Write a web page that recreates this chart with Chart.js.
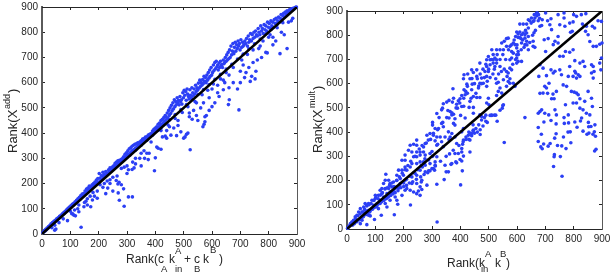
<!DOCTYPE html>
<html>
<head>
<meta charset="utf-8">
<script src="https://cdn.jsdelivr.net/npm/chart.js@4"></script>
<style>
html, body { margin: 0; padding: 0; background: #fff; }
canvas { position: absolute; top: 0; }
</style>
</head>
<body>
<canvas id="addChart" width="305" height="275" style="left:0"></canvas>
<canvas id="multChart" width="305" height="275" style="left:305px"></canvas>
<script>
const rankTicks = [0, 100, 200, 300, 400, 500, 600, 700, 800, 900];
const diagonalX = [0, 900];
const diagonalY = [0, 900];

// additive panel
const addBandLow = [[3,6],[6,8],[8,14],[11,12],[13,19],[16,17],[18,24],[20,22],[23,30],[25,27],[28,34],[30,31],[32,40],[35,38],[37,45],[40,42],[42,50],[44,47],[47,54],[49,52],[52,60],[54,56],[57,64],[59,62],[62,70],[64,66],[67,74],[69,71],[72,80],[74,77],[77,85],[79,81],[82,90],[84,87],[87,96],[89,92],[92,102],[94,97],[97,107],[99,103],
[102,112],[104,108],[107,118],[109,113],[112,122],[114,119],[117,128],[119,123],[122,134],[124,128],[127,140],[129,134],[132,146],[134,138],[137,152],[139,144],[142,158],[144,150],[147,160],[149,155],[152,170],[154,160],[157,178],[159,165],[162,182],[164,172],[167,190],[169,176],[172,188],[174,180],[177,195],[179,185],[182,200],[184,190],[187,206],[189,196],[192,214],[194,202],[197,220],[199,206],
[202,240],[205,222],[207,212],[210,232],[212,218],[215,245],[217,226],[220,236],[222,230],[225,248],[227,235],[230,242],[232,240],[235,255],[238,245],[240,262],[243,252],[245,250],[248,265],[250,258],[253,270],[255,262],[258,280],[260,268],[263,285],[265,272],[268,290],[270,278],[273,292],[275,282],[278,288],[280,296],[283,290],[285,300],[288,306],[290,298],[293,316],[295,305],[298,322],[300,310]];
const addBandMid = [[303,330],[305,315],[308,338],[310,320],[313,342],[315,326],[318,348],[320,332],[323,352],[325,335],[328,356],[330,340],[333,358],[335,345],[338,362],[340,350],[343,358],[345,365],[348,355],[350,370],[353,362],[355,376],[358,368],[360,378],[363,372],[365,384],[368,376],[370,385],[373,380],[375,392],[378,386],[380,395],[383,390],[385,398],[388,396],[390,408],[393,402],[395,415],[398,408],[400,420],
[403,412],[405,425],[408,416],[410,435],[412,422],[415,440],[417,428],[420,450],[422,434],[425,455],[427,440],[430,462],[432,446],[435,470],[437,452],[440,462],[442,480],[445,458],[447,490],[449,470],[452,500],[454,478],[457,510],[459,488],[462,520],[464,496],[467,532],[469,505],[472,525],[474,512],[477,540],[479,520],[482,530],[484,512],[487,545],[489,525],[492,532],[494,515],[497,560],[499,540],
[502,570],[504,550],[507,565],[509,530],[512,575],[514,555],[517,545],[519,535],[522,572],[524,550],[527,540],[529,580],[532,560],[534,548],[537,575],[539,555],[542,590],[544,565],[547,580],[549,570],[552,598],[554,578],[557,610],[559,585],[562,600],[564,590],[567,612],[569,596],[572,625],[574,605],[577,620],[579,600],[582,630],[584,610],[587,640],[589,618],[592,650],[594,625],[597,660],[599,630]];
const addBandHigh = [[602,640],[605,670],[607,648],[610,680],[612,655],[615,685],[617,662],[620,670],[622,650],[625,678],[627,660],[630,685],[632,668],[635,672],[637,660],[640,690],[642,675],[645,680],[647,700],[650,685],[652,710],[654,690],[657,720],[659,695],[662,730],[664,700],[667,745],[669,710],[672,725],[674,755],[677,715],[679,740],[682,760],[684,725],[687,750],[689,735],[692,765],[694,745],[697,755],[699,730],
[702,770],[705,740],[708,760],[710,745],[713,750],[716,765],[719,755],[722,775],[725,745],[728,785],[730,760],[733,770],[736,795],[739,765],[742,790],[745,775],[748,800],[751,780],[754,805],[757,790],[760,785],[763,815],[766,800],[769,790],[772,825],[775,805],[778,815],[781,795],[784,830],[787,810],[790,825],[793,805],[796,840],[799,820],[802,835],[805,815],[808,845],[811,825],[814,840],[817,820],[820,850],[823,835],[826,855],[829,830],[832,845],[835,860],[838,840],[841,855],[844,870],[847,850],[850,865],[853,875],[856,860],[859,880],[862,870],[865,885],[868,875],[871,880],[874,890],[877,885],[880,893],[883,887],[886,895],[889,892],[892,897],[895,899],[898,900]];
const addNearLine = [[310,312],[330,332],[350,352],[370,372],[390,392],[410,412],[430,433],[450,452],[470,474],[490,493],[510,513],[530,533],[550,553],[570,573],[590,593],[610,613],[630,633],[650,654],[670,673],[690,694],[710,713],[730,734],[750,754],[770,773],[790,794],[810,813],[830,834],[420,410],[445,432],[470,458],[495,482],[515,505],[540,525],[565,552],[585,570],[605,595],[630,615],[650,640],[675,660],[705,690],[725,712],[745,730],[780,765],[805,790],[830,818],[850,838]];
const addBelow = [[138,27],[45,15],[49,20],[90,53],[108,80],[112,75],[118,72],[100,90],[126,100],[130,88],[148,108],[155,130],[160,115],[172,108],[178,135],[185,150],[195,142],[215,185],[225,160],[232,182],[240,215],[250,170],[262,212],[268,198],[272,205],[280,195],[290,110],[273,134],[269,163],[288,179],[305,147],[319,147],[397,251],[300,240],[305,255],[318,256],[325,262],[330,278],[320,285],[345,300],[350,270],[362,300],[375,295],[378,320],[400,302],[410,340],[420,336],[405,345],[425,385],[435,388],[440,380],[455,392],[465,420],[475,390],[490,405],[500,380],[505,385],[510,395],[515,400],[520,465],[530,455],[550,450],[523,334],[568,425],[572,435],[575,445],[580,470],[590,490],[575,465],[560,500],[570,520],[535,490],[545,470],[600,505],[610,520],[625,545],[620,560],[640,572],[645,600],[660,580],[690,575],[675,600],[658,513],[661,532],[695,492],[700,600],[715,620],[735,605],[752,615],[755,645],[740,625],[720,640],[710,670],[730,660],[745,680],[760,690],[775,700],[790,720],[795,718],[815,750],[840,715],[865,735],[815,780],[825,765],[845,800],[855,790],[880,845],[885,855],[870,840],[800,780],[770,745],[765,735],[700,645],[660,630],[640,610],[620,590],[600,575],[590,540],[545,520],[520,480],[480,450],[480,430],[450,425],[440,410],[420,420],[385,365],[370,320],[360,330],[350,320],[330,300],[300,270],[290,265],[280,260],[265,230],[250,225],[240,200],[230,210],[220,200],[205,195],[195,170],[180,165],[170,150],[160,140],[150,125],[130,115],[115,95],[105,80],[75,60],[60,45],[45,35],[35,25]];

// multiplicative panel
const multLow = [[318,29],[167,59],[224,99],[401,182],[407,240],[343,204],[317,185],[350,236],[358,236],[367,267],[381,312],[387,273],[399,287],[405,281],[411,301],[384,277],[346,263],[309,243],[305,250],[293,240],[285,232],[276,236],[262,194],[258,174],[264,163],[282,181],[252,157],[246,146],[258,139],[235,153],[211,167],[205,160],[194,139],[176,119],[179,102],[141,91],[111,84],[121,57],[97,39],[70,18],[53,36],[82,54],[64,77],[100,98],[135,105],[152,119],[170,132],[223,160],[229,188],[246,188],[264,201],[266,256],[276,263],[293,270],[311,277],[317,298],[311,263],[258,243],[246,222],[229,215],[205,201],[188,188],[164,160],[147,139],[129,119],[117,105],[76,57],[47,22],[405,401],[434,367],[440,394],[446,408],[428,387],[411,367],[387,353],[405,332],[393,312],[405,318],[434,318],[370,270]];
const multMid = [[137,226],[302,440],[302,429],[311,415],[323,415],[334,436],[376,436],[381,429],[411,415],[340,422],[282,387],[293,394],[305,387],[317,380],[329,380],[346,380],[358,401],[370,394],[381,380],[364,380],[334,360],[317,346],[311,364],[287,367],[276,353],[270,339],[246,346],[235,350],[223,346],[246,367],[217,325],[229,318],[246,318],[258,318],[270,318],[235,298],[246,298],[258,305],[276,305],[293,312],[205,305],[194,284],[205,284],[182,243],[176,222],[194,243],[205,256],[211,243],[223,256],[229,270],[246,270],[258,277],[270,277],[147,201],[135,201],[129,188],[152,188],[164,194],[176,201],[188,208],[199,222],[117,160],[123,167],[135,167],[147,167],[158,174],[170,167],[100,139],[111,139],[123,146],[141,146],[152,153],[76,105],[88,119],[100,126],[64,105],[70,98],[59,91],[47,84],[41,70],[53,70],[35,57],[29,50],[23,36],[12,22],[6,11],[17,29],[2,3],[64,64],[76,77],[88,84],[94,98],[106,105],[117,119],[129,132],[141,128],[158,150],[182,168],[200,190],[240,230],[275,290],[300,320],[320,350],[340,340],[360,370],[20,16],[32,30],[44,38],[56,50],[68,60],[80,70],[92,88],[104,92],[116,110],[128,122],[140,134],[150,140],[162,150],[174,172],[186,180],[198,192],[210,205],[222,218],[236,232],[250,245],[262,262],[274,272],[288,285],[302,300]];
const multHigh = [[440,657],[446,646],[413,637],[426,640],[411,620],[434,620],[441,621],[423,598],[425,589],[442,598],[374,579],[440,575],[413,575],[419,568],[417,554],[405,551],[399,538],[393,529],[376,540],[360,531],[352,524],[340,517],[372,524],[387,515],[390,499],[405,506],[412,507],[431,502],[446,502],[446,547],[438,540],[434,527],[337,499],[334,492],[356,489],[364,485],[376,474],[370,471],[401,469],[317,477],[325,460],[360,458],[417,458],[446,478],[381,455],[430,370],[440,385],[450,395],[460,400],[470,410],[480,425],[490,445],[465,430],[475,450],[485,460],[455,415],[445,405],[435,395],[470,390],[430,400],[420,370],[410,360],[490,470],[495,440],[510,470],[520,470],[530,445],[525,470],[555,357],[628,460],[548,499],[550,510],[540,490],[669,892],[661,885],[663,871],[651,871],[645,860],[657,857],[640,864],[634,846],[610,846],[622,846],[681,837],[687,840],[672,892],[676,885],[599,813],[604,805],[610,813],[616,802],[622,809],[628,802],[634,809],[604,791],[628,788],[640,795],[595,795],[614,786],[563,786],[569,788],[555,775],[546,768],[575,754],[587,768],[593,761],[599,747],[616,768],[634,775],[628,761],[657,775],[657,754],[640,740],[604,733],[599,719],[587,726],[581,733],[563,754],[552,740],[540,740],[528,740],[511,740],[516,720],[522,706],[499,712],[493,699],[505,699],[516,699],[528,699],[516,685],[528,685],[540,671],[522,671],[505,678],[493,671],[487,650],[499,650],[493,630],[475,623],[469,685],[458,657],[458,630],[481,602],[469,602],[464,582],[493,589],[528,602],[534,606],[552,616],[569,609],[575,602],[587,602],[593,589],[563,589],[540,582],[534,568],[546,561],[528,551],[499,540],[469,543],[458,543],[493,520],[501,513],[552,513],[575,664],[581,657],[569,644],[563,650],[616,692],[599,706],[581,706],[604,692],[599,685],[575,699],[469,471],[475,464],[511,469],[505,469]];
const multExtra = [[10,14],[15,20],[22,30],[26,22],[30,42],[35,30],[38,55],[42,38],[46,62],[50,44],[55,70],[58,52],[62,82],[66,60],[70,95],[74,68],[78,100],[82,75],[85,105],[90,82],[95,118],[98,90],[102,130],[106,98],[110,125],[114,105],[118,140],[122,112],[125,150],[130,118],[134,165],[138,125],[142,170],[146,132],[150,180],[154,138],[158,190],[162,145],[166,175],[170,150],[175,200],[180,158],[185,215],[190,170],[195,230],[200,175],[205,245],[210,180],[215,262],[220,190],[225,280],[232,195],[240,300],[245,205],[255,330],[260,215],[265,345],[272,225],[280,355],[288,240],[295,370],[300,250],[305,395],[312,260],[320,410],[330,280],[338,440],[350,300],[352,460],[362,310],[370,480],[375,325],[385,500],[395,345],[398,520],[408,350],[412,540],[420,380],[425,560],[445,430],[450,600],[455,560],[460,620],[465,590],[470,640],[475,600],[480,660],[485,625],[490,680],[495,610],[500,660],[505,625],[510,700],[515,640],[520,660],[525,620],[530,720],[535,640],[540,700],[545,650],[550,720],[555,660],[560,700],[565,630],[570,740],[575,620],[580,760],[585,680],[590,780],[595,700],[600,760],[605,720],[610,790],[615,740],[620,780],[625,750],[630,820],[635,760],[640,830],[645,770],[650,850],[655,800],[660,860],[665,820],[670,880],[660,810],[675,860],[680,870]];
const multRight = [[675,419],[695,442],[686,391],[675,361],[684,339],[689,331],[694,351],[710,342],[717,353],[733,375],[738,393],[743,345],[758,343],[773,332],[790,356],[764,380],[780,400],[788,401],[732,307],[731,298],[753,299],[729,258],[759,218],[874,322],[879,329],[833,404],[847,391],[854,396],[868,391],[873,401],[877,383],[875,430],[852,440],[853,422],[861,423],[812,420],[804,442],[824,446],[767,436],[782,438],[738,434],[720,448],[701,892],[766,892],[745,885],[800,885],[827,885],[843,889],[810,878],[720,868],[708,860],[689,864],[766,871],[898,857],[886,860],[798,855],[786,850],[831,846],[845,837],[866,837],[874,830],[751,843],[769,837],[716,843],[722,823],[795,816],[842,816],[789,812],[851,802],[710,786],[734,775],[745,768],[696,781],[745,795],[857,774],[880,754],[869,754],[900,768],[892,763],[728,761],[663,750],[701,733],[771,733],[786,730],[751,713],[763,713],[798,740],[898,706],[892,685],[896,657],[804,695],[833,692],[822,685],[839,671],[863,678],[869,671],[872,650],[863,644],[869,623],[786,671],[804,651],[807,644],[816,637],[822,630],[798,630],[781,630],[810,623],[720,657],[734,651],[728,644],[751,657],[757,637],[681,678],[692,664],[677,630],[704,633],[763,595],[775,589],[698,589],[704,582],[713,602],[692,561],[708,560],[681,560],[727,557],[731,538],[722,538],[739,568],[792,568],[802,565],[810,561],[816,554],[822,538],[839,527],[863,540],[866,506],[851,568],[771,513],[798,520],[810,520],[734,492],[712,471],[681,485],[675,478],[687,492],[698,478],[822,499],[833,492],[845,478],[857,471],[766,460],[781,471],[739,471],[828,458]];

const toPoints = (pairs) => pairs.map((p) => ({ x: p[0], y: p[1] }));
const addPoints = toPoints([...addBandLow, ...addBandMid, ...addBandHigh, ...addNearLine, ...addBelow]);
const multPoints = toPoints([...multLow, ...multMid, ...multHigh, ...multExtra, ...multRight]);
const diagonal = diagonalX.map((x, i) => ({ x: x, y: diagonalY[i] }));

const fontName = "'Liberation Sans', Arial, sans-serif";
const ink = "#262626";
const sideAxis = (position, size, borderWidth, borderColor) => ({
    type: "linear",
    position: position,
    min: 0,
    max: 900,
    afterBuildTicks: (axis) => { axis.ticks = rankTicks.map((v) => ({ value: v })); },
    afterFit: (axis) => {
        if (axis.isHorizontal()) axis.height = size;
        else axis.width = size;
        // tick label overhang would shrink the plot area otherwise
        axis.paddingLeft = axis.paddingRight = axis.paddingTop = axis.paddingBottom = 0;
    },
    border: { display: true, color: borderColor, width: borderWidth },
    grid: { drawOnChartArea: false, drawTicks: true, tickLength: -3, color: ink },
    ticks: {
        display: size > 0,
        color: ink,
        padding: 7,
        maxRotation: 0,
        autoSkip: false,
        font: { family: fontName, size: 10 }
    }
});

// multi part axis text, chart.js titles cant do sub and superscripts
const titleParts = {
    id: "titleParts",
    afterDraw(chart, args, opts) {
        const ctx = chart.ctx;
        ctx.save();
        ctx.fillStyle = ink;
        ctx.textBaseline = "alphabetic";
        opts.xParts.forEach((p) => {
            ctx.font = p[3] + "px " + fontName;
            ctx.fillText(p[0], p[1], p[2]);
        });
        ctx.translate(opts.yAt, opts.yStart);
        ctx.rotate(-Math.PI / 2);
        opts.yParts.forEach((p) => {
            ctx.font = p[3] + "px " + fontName;
            ctx.fillText(p[0], p[1], p[2]);
        });
        ctx.restore();
    }
};

function makeChart(id, points, top, bottomSize, titles) {
    return new Chart(document.getElementById(id), {
        type: "scatter",
        data: {
            datasets: [
                { type: "line", data: diagonal, borderColor: "#000", borderWidth: 2.5, pointRadius: 0, fill: false },
                { data: points, backgroundColor: "#2b3ff5", borderWidth: 0, pointRadius: 1.8, clip: false }
            ]
        },
        plugins: [titleParts],
        options: {
            responsive: false,
            animation: false,
            events: [],
            layout: { autoPadding: false, padding: { top: top, right: 8, left: 0, bottom: 0 } },
            plugins: {
                legend: { display: false },
                tooltip: { enabled: false },
                titleParts: titles
            },
            scales: {
                x: sideAxis("bottom", bottomSize, 1, ink),
                y: sideAxis("left", 42, 2, "#5a5a5a"),
                xTop: sideAxis("top", 0, 1, ink),
                yRight: sideAxis("right", 0, 1, "#5a5a5a")
            }
        }
    });
}

makeChart("addChart", addPoints, 7, 41, {
    xParts: [["Rank(c", 126, 263, 12], ["A", 161, 272, 9.5], ["k", 169, 263, 12], ["A", 175, 254, 9.5], ["in", 175, 272, 9.5], ["+", 184, 263, 12], ["c", 194, 263, 12], ["B", 194, 272, 9.5], ["k", 203, 263, 12], ["B", 210, 253, 9.5], [")", 219, 263, 12]],
    yAt: 17,
    yStart: 153,
    yParts: [["Rank(X", 0, 0, 13], ["add", 44, -7, 9], [")", 60, 0, 13]]
});

makeChart("multChart", multPoints, 11, 46, {
    xParts: [["Rank(k", 142, 267, 12], ["in", 176, 272, 9.5], ["A", 180, 257, 9.5], ["k", 190, 267, 12], ["B", 195, 257, 9.5], [")", 201, 267, 12]],
    yAt: 17,
    yStart: 153,
    yParts: [["Rank(X", 0, 0, 13], ["mult", 45, -7, 9], [")", 63, 0, 13]]
});
</script>
</body>
</html>
